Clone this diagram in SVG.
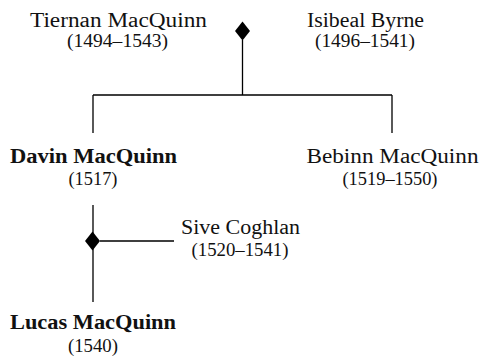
<svg xmlns="http://www.w3.org/2000/svg" width="481" height="356" viewBox="0 0 481 356">
<style>
.n{font-family:"Liberation Serif","Times New Roman",serif;font-size:20px;fill:#111;text-anchor:middle}
.b{font-weight:bold}
.d{font-family:"Liberation Serif","Times New Roman",serif;font-size:18px;fill:#111;text-anchor:middle}
.l{stroke:#000;stroke-width:1.3;fill:none}
.m{fill:#000;stroke:none}
</style>
<rect width="481" height="356" fill="#fff"/>
<g id="connectors">
<path class="l" d="M242.5 40 V95 M93 95 H392 M93 95 V133 M392 95 V133"/>
<polygon class="m" points="242.5,21.5 250,31 242.5,40.5 235,31"/>
<path class="l" d="M93 205 V302 M100 241 H174"/>
<polygon class="m" points="92.5,231.5 100,241 92.5,250.5 85,241"/>
</g>
<g id="tiernan"><text class="n" x="118.5" y="26.5" textLength="177" lengthAdjust="spacingAndGlyphs">Tiernan MacQuinn</text><text class="d" x="117.5" y="47" textLength="101" lengthAdjust="spacingAndGlyphs">(1494–1543)</text></g>
<g id="isibeal"><text class="n" x="365.5" y="26.5" textLength="117" lengthAdjust="spacingAndGlyphs">Isibeal Byrne</text><text class="d" x="365" y="47" textLength="100" lengthAdjust="spacingAndGlyphs">(1496–1541)</text></g>
<g id="davin"><text class="n b" x="93.5" y="163" textLength="167" lengthAdjust="spacingAndGlyphs">Davin MacQuinn</text><text class="d" x="93" y="185" textLength="49" lengthAdjust="spacingAndGlyphs">(1517)</text></g>
<g id="bebinn"><text class="n" x="392.5" y="163" textLength="172" lengthAdjust="spacingAndGlyphs">Bebinn MacQuinn</text><text class="d" x="390" y="185" textLength="95" lengthAdjust="spacingAndGlyphs">(1519–1550)</text></g>
<g id="sive"><text class="n" x="240.5" y="234" textLength="119" lengthAdjust="spacingAndGlyphs">Sive Coghlan</text><text class="d" x="240" y="256" textLength="97" lengthAdjust="spacingAndGlyphs">(1520–1541)</text></g>
<g id="lucas"><text class="n b" x="93" y="329" textLength="166" lengthAdjust="spacingAndGlyphs">Lucas MacQuinn</text><text class="d" x="93" y="352" textLength="50" lengthAdjust="spacingAndGlyphs">(1540)</text></g>
</svg>
